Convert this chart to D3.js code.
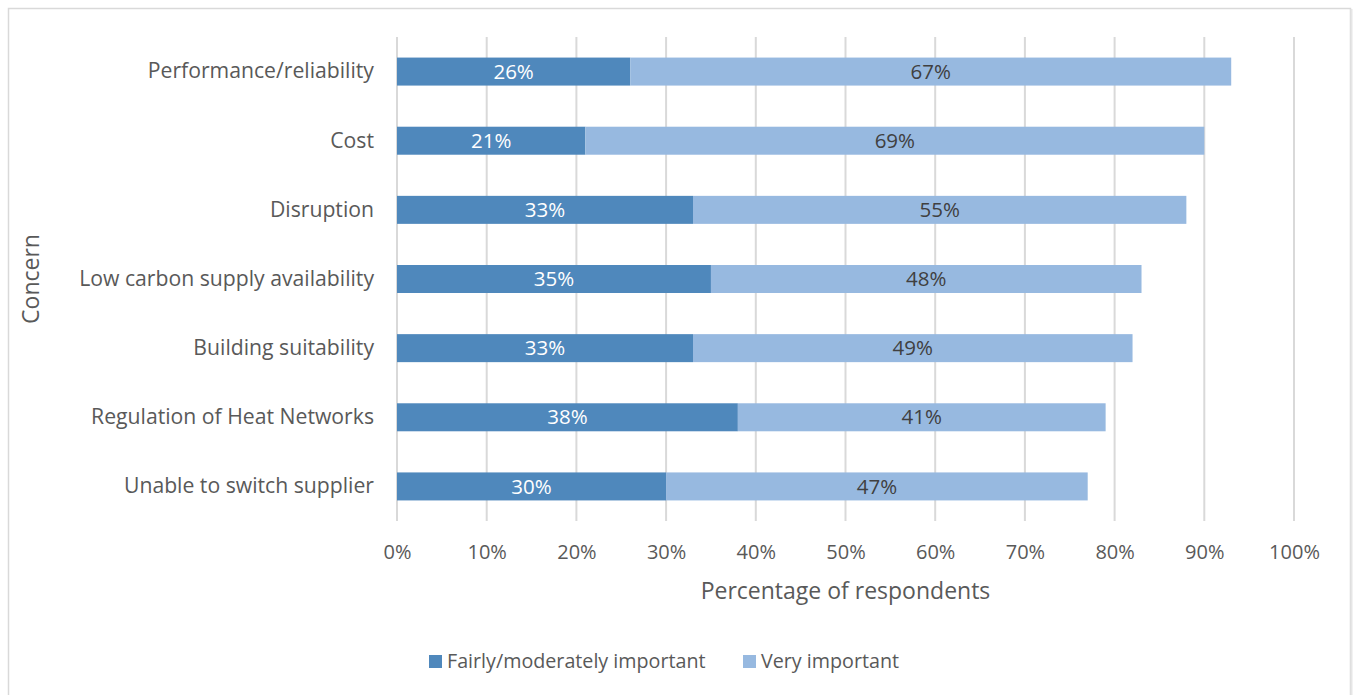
<!DOCTYPE html>
<html>
<head>
<meta charset="utf-8">
<script src="https://cdn.jsdelivr.net/npm/d3@7"></script>
<style>
  html, body { margin: 0; padding: 0; background: #fff; }
  svg { display: block; font-family: "Open Sans", Lato, sans-serif; }
</style>
</head>
<body>
<svg id="chart" width="1356" height="695"></svg>
<script>
// Concerns about heat networks, share of respondents by importance
const categories = [
  "Performance/reliability",
  "Cost",
  "Disruption ",
  "Low carbon supply availability",
  "Building suitability",
  "Regulation of Heat Networks",
  "Unable to switch supplier"
];
const fairlyImportant = [26, 21, 33, 35, 33, 38, 30];
const veryImportant   = [67, 69, 55, 48, 49, 41, 47];
const seriesNames = ["Fairly/moderately important", "Very important"];
const seriesColors = ["#4F88BC", "#97B9E0"];
const xTicks = [0, 10, 20, 30, 40, 50, 60, 70, 80, 90, 100];

const svg = d3.select("#chart");
const textColor = "#595959";
const font = "'Open Sans', Lato, sans-serif";

// chart frame
svg.append("path")
  .attr("d", "M8.5,695 V8.5 H1350.5 V695")
  .attr("fill", "none")
  .attr("stroke", "#D9D9D9")
  .attr("stroke-width", 1.5);
svg.append("line")
  .attr("x1", 1351.5).attr("x2", 1351.5).attr("y1", 9).attr("y2", 695)
  .attr("stroke", "#E6E6E6").attr("stroke-width", 2);

const x = d3.scaleLinear().domain([0, 100]).range([397, 1294]);
const y = d3.scaleBand().domain(categories).range([37, 521])
  .paddingInner(0.595).paddingOuter(0.2975);

// vertical gridlines
svg.append("g").selectAll("line").data(xTicks).join("line")
  .attr("x1", d => x(d)).attr("x2", d => x(d))
  .attr("y1", 37).attr("y2", 521)
  .attr("stroke", "#D9D9D9").attr("stroke-width", 2);

// x axis tick labels
const xAxis = d3.axisBottom(x).tickValues(xTicks).tickFormat(d => d + "%").tickSize(0).tickPadding(0);
const gx = svg.append("g").attr("transform", "translate(0,552)").call(xAxis);
gx.select(".domain").remove();
gx.selectAll("text")
  .attr("fill", textColor).attr("font-size", 20).attr("dy", "0.35em")
  .style("font-family", font);

// y axis category labels
const yAxis = d3.axisLeft(y).tickSize(0).tickPadding(0);
const gy = svg.append("g").attr("transform", "translate(374,0)").call(yAxis);
gy.select(".domain").remove();
gy.selectAll("text")
  .attr("fill", textColor).attr("font-size", 21.2)
  .style("font-family", font);

// stacked bars
const rows = categories.map((c, i) => ({ c, a: fairlyImportant[i], b: veryImportant[i] }));
const stack = d3.stack().keys(["a", "b"])(rows);

const layers = svg.append("g").selectAll("g").data(stack).join("g")
  .attr("fill", (d, i) => seriesColors[i]);

layers.selectAll("rect").data(d => d).join("rect")
  .attr("x", d => x(d[0]))
  .attr("width", d => x(d[1]) - x(d[0]))
  .attr("y", d => y(d.data.c))
  .attr("height", y.bandwidth());

// value labels inside segments
layers.each(function(layer, li) {
  d3.select(this).selectAll("text").data(layer).join("text")
    .attr("x", d => (x(d[0]) + x(d[1])) / 2)
    .attr("y", d => y(d.data.c) + y.bandwidth() / 2)
    .attr("dy", "0.35em")
    .attr("text-anchor", "middle")
    .attr("font-size", 20.5)
    .attr("fill", li === 0 ? "#FFFFFF" : "#404040")
    .text(d => (d[1] - d[0]) + "%");
});

// axis titles
svg.append("text")
  .attr("x", x(50)).attr("y", 591).attr("dy", "0.35em")
  .attr("text-anchor", "middle").attr("font-size", 23).attr("fill", textColor)
  .text("Percentage of respondents");

svg.append("text")
  .attr("transform", "translate(31,279) rotate(-90)")
  .attr("dy", "0.35em")
  .attr("text-anchor", "middle").attr("font-size", 23).attr("fill", textColor)
  .text("Concern");

// legend
const legendX = [429, 743];
const legend = svg.append("g").selectAll("g").data(seriesNames).join("g")
  .attr("transform", (d, i) => `translate(${legendX[i]},661)`);
legend.append("rect")
  .attr("x", 0).attr("y", -6).attr("width", 13).attr("height", 13)
  .attr("fill", (d, i) => seriesColors[i]);
legend.append("text")
  .attr("x", 18).attr("dy", "0.35em")
  .attr("font-size", 19.7).attr("fill", textColor)
  .text(d => d);
</script>
</body>
</html>
